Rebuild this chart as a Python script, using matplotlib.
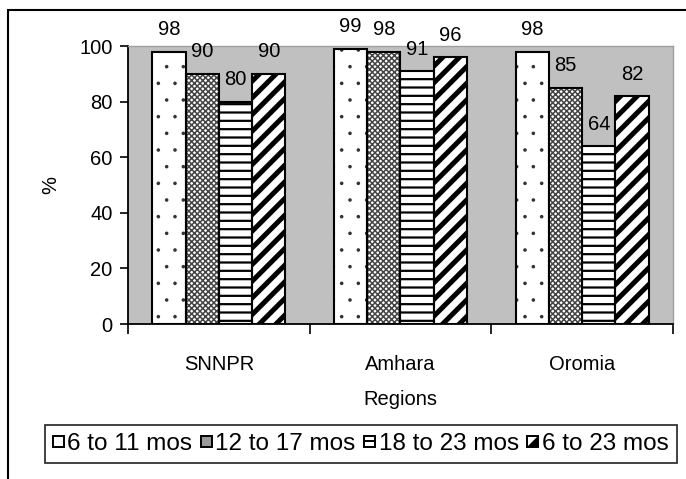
import matplotlib
matplotlib.use("Agg")
import matplotlib.pyplot as plt
import matplotlib.hatch as mhatch
from matplotlib.patches import Rectangle, Polygon
from matplotlib.lines import Line2D
from matplotlib.legend_handler import HandlerBase
import numpy as np

plt.rcParams['font.family'] = ['Liberation Sans', 'DejaVu Sans']
# finer dots for the stippled fill
mhatch.SmallFilledCircles.size = 0.065

regions = ["SNNPR", "Amhara", "Oromia"]
series_names = ["6 to 11 mos", "12 to 17 mos", "18 to 23 mos", "6 to 23 mos"]
age_6_11 = [98, 99, 98]
age_12_17 = [90, 98, 85]
age_18_23 = [80, 91, 64]
age_6_23 = [90, 96, 82]
series_values = [age_6_11, age_12_17, age_18_23, age_6_23]

hatches = ['.', 'xxxxxx', '--', '//']
hatch_colors = ['#333333', '#444444', 'black', 'black']
hatch_widths = [1.0, 1.1, 1.6, 3.6]
swatch_kinds = ['plain', 'checker', 'hline', 'halftri']

FS = 14.5
LEG_FS = 17.5


class SwatchHandler(HandlerBase):
    """Small square legend key with a simplified pattern."""

    def __init__(self, kind):
        super().__init__()
        self.kind = kind

    def create_artists(self, legend, orig_handle, xdescent, ydescent,
                       width, height, fontsize, trans):
        s = width
        x0 = -xdescent
        y0 = -ydescent + (height - s) / 2
        arts = []
        face = '#9a9a9a' if self.kind == 'checker' else 'white'
        arts.append(Rectangle((x0, y0), s, s, facecolor=face, edgecolor='none',
                              transform=trans))
        if self.kind == 'hline':
            arts.append(Line2D([x0, x0 + s], [y0 + s / 2, y0 + s / 2],
                               color='black', linewidth=1.4, transform=trans))
        elif self.kind == 'halftri':
            arts.append(Polygon([[x0 + s, y0 + s], [x0 + s, y0], [x0, y0]],
                                closed=True, facecolor='black', edgecolor='none',
                                transform=trans))
        arts.append(Rectangle((x0, y0), s, s, facecolor='none', edgecolor='black',
                              linewidth=1.4, transform=trans))
        return arts


fig = plt.figure(figsize=(6.86, 4.79), dpi=100)
ax = fig.add_axes([128 / 686, 1 - 324 / 479, (673 - 128) / 686, (324 - 46) / 479])
ax.set_facecolor('#c0c0c0')

x = np.arange(len(regions))
width = 0.183
offsets = (np.arange(4) - 1.5) * width

for i, vals in enumerate(series_values):
    pos = x + offsets[i]
    # patterned fill
    hb = ax.bar(pos, vals, width, color='white', edgecolor=hatch_colors[i],
                linewidth=0, hatch=hatches[i], zorder=2)
    for p in hb:
        if hasattr(p, 'set_hatch_linewidth'):
            p.set_hatch_linewidth(hatch_widths[i])
    # bar outline
    ax.bar(pos, vals, width, color='none', edgecolor='black', linewidth=1.5, zorder=3)
    for xp, v in zip(pos, vals):
        ax.text(xp, v + 4.5, str(v), ha='center', va='bottom', fontsize=FS, zorder=4)

ax.set_xlim(-0.5, 2.5)
ax.set_ylim(0, 100)
ax.set_yticks(np.arange(0, 101, 20))
ax.set_xticks([-0.5, 0.5, 1.5, 2.5])
ax.set_xticklabels([])
ax.set_xticks(x, minor=True)
ax.set_xticklabels(regions, minor=True)
ax.tick_params(axis='x', which='minor', length=0, pad=22, labelsize=FS)
ax.tick_params(axis='x', which='major', direction='out', length=7, width=1.2)
ax.tick_params(axis='y', direction='out', length=6, width=1.2, labelsize=FS, pad=5)

for s in ['top', 'right']:
    ax.spines[s].set_color('#a0a0a0')
    ax.spines[s].set_linewidth(1.0)
for s in ['left', 'bottom']:
    ax.spines[s].set_color('black')
    ax.spines[s].set_linewidth(1.3)

ax.set_ylabel('%', fontsize=FS, labelpad=14)
ax.set_xlabel('Regions', fontsize=FS, labelpad=12)

proxies = [Rectangle((0, 0), 1, 1) for _ in series_names]
handler_map = {p: SwatchHandler(k) for p, k in zip(proxies, swatch_kinds)}
leg = fig.legend(proxies, series_names, ncol=4, handler_map=handler_map,
                 loc='upper left', bbox_to_anchor=(45 / 686, 1 - 425 / 479),
                 fontsize=LEG_FS, frameon=True, fancybox=False, edgecolor='black',
                 handlelength=0.45, handleheight=0.7, handletextpad=0.15,
                 columnspacing=0.35, borderpad=0.32, borderaxespad=0)
leg.get_frame().set_linewidth(1.3)

# outer chart frame
fig.patches.append(Rectangle((8 / 686, -0.1), 1.2, 1.1 - 10 / 479, transform=fig.transFigure,
                             fill=False, edgecolor='black', linewidth=1.5))

fig.savefig('out.png', dpi=100)
